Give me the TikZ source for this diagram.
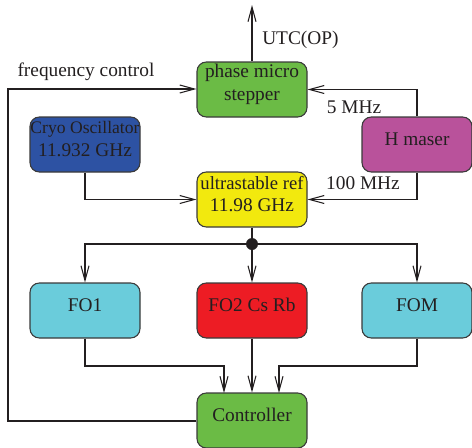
\documentclass[tikz,border=0pt]{standalone}
\usepackage{fontspec}
\setmainfont{Liberation Serif}
\usetikzlibrary{arrows.meta}
\definecolor{txt}{HTML}{231F20}
\definecolor{bord}{HTML}{3A3A3A}
\definecolor{cgreen}{HTML}{6BBB45}
\definecolor{cblue}{HTML}{2D52A3}
\definecolor{cmag}{HTML}{B9529B}
\definecolor{cyel}{HTML}{F2E90E}
\definecolor{ccyan}{HTML}{6ACCDB}
\definecolor{cred}{HTML}{ED1C24}
\begin{document}
\begin{tikzpicture}[x=0.75pt,y=-0.75pt,
  every node/.style={text=txt,font=\fontsize{14.5}{17}\selectfont},
  blk/.style={draw=bord,line width=0.8pt,rounded corners=7pt,minimum width=82.5pt,minimum height=41.25pt,inner sep=0pt},
  btxt/.style={inner sep=0pt,align=center},
  conn/.style={draw=txt,line width=1.1pt},
  arr/.style={conn,-{Straight Barb[length=11pt,width=6pt,line width=0.8pt]}},
  lbl/.style={inner sep=0pt}]
\useasboundingbox (0,0) rectangle (472,447);
\node[blk,fill=cgreen] (pms) at (252,89.5) {};
\node[blk,fill=cblue] (cryo) at (85,144.5) {};
\node[blk,fill=cmag] (hm) at (417,144.5) {};
\node[blk,fill=cyel] (usr) at (252,199.5) {};
\node[blk,fill=ccyan] (fo1) at (85,310.5) {};
\node[blk,fill=cred] (fo2) at (252,310.5) {};
\node[blk,fill=ccyan] (fom) at (417,310.5) {};
\node[blk,fill=cgreen] (ctl) at (252,420.5) {};
\node[btxt] (pmsT) at ([yshift=4pt]pms.center) {phase micro\\stepper};
\node[btxt] (cryoT) at ([yshift=4pt]cryo.center) {{\fontsize{13.2}{15.5}\selectfont Cryo Oscillator}\\11.932 GHz};
\node[btxt] (hmT) at ([yshift=4pt]hm.center) {H maser};
\node[btxt] (usrT) at ([yshift=4pt]usr.center) {{\fontsize{14}{16}\selectfont ultrastable ref}\\11.98 GHz};
\node[btxt] (fo1T) at ([yshift=4pt]fo1.center) {FO1};
\node[btxt] (fo2T) at ([yshift=4pt]fo2.center) {FO2 Cs Rb};
\node[btxt] (fomT) at ([yshift=4pt]fom.center) {FOM};
\node[btxt] (ctlT) at ([yshift=4pt]ctl.center) {Controller};
\coordinate (top) at (252,5);
\coordinate (dot) at (252,244);
\fill[txt] (dot) circle (4.5pt);
% labels
\node[lbl,anchor=west] (utc) at (262,40) {UTC(OP)};
\node[lbl] (fc) at (86,72) {frequency control};
\node[lbl] (f5) at (354,107) {5 MHz};
\node[lbl] (f100) at (363,183) {100 MHz};
% connectors
\draw[arr] (pms.north) -- (top);
\draw[arr] (ctl.west |- 0,421) -| (8,89) -- (pms.west |- 0,89);
\draw[arr] (hm.north) |- (pms.east);
\draw[arr] (hm.south) |- (usr.east);
\draw[arr] (cryo.south) |- (usr.west);
\draw[conn] (usr.south) -- (dot);
\draw[arr] (dot) -| (fo1.north);
\draw[arr] (dot) -| (fom.north);
\draw[arr] (dot) -- (fo2.north);
\draw[arr] (fo1.south) |- (224,366) -- (224,393);
\draw[arr] (fo2.south) -- (ctl.north);
\draw[arr] (fom.south) |- (279,366) -- (279,393);
\end{tikzpicture}
\end{document}
